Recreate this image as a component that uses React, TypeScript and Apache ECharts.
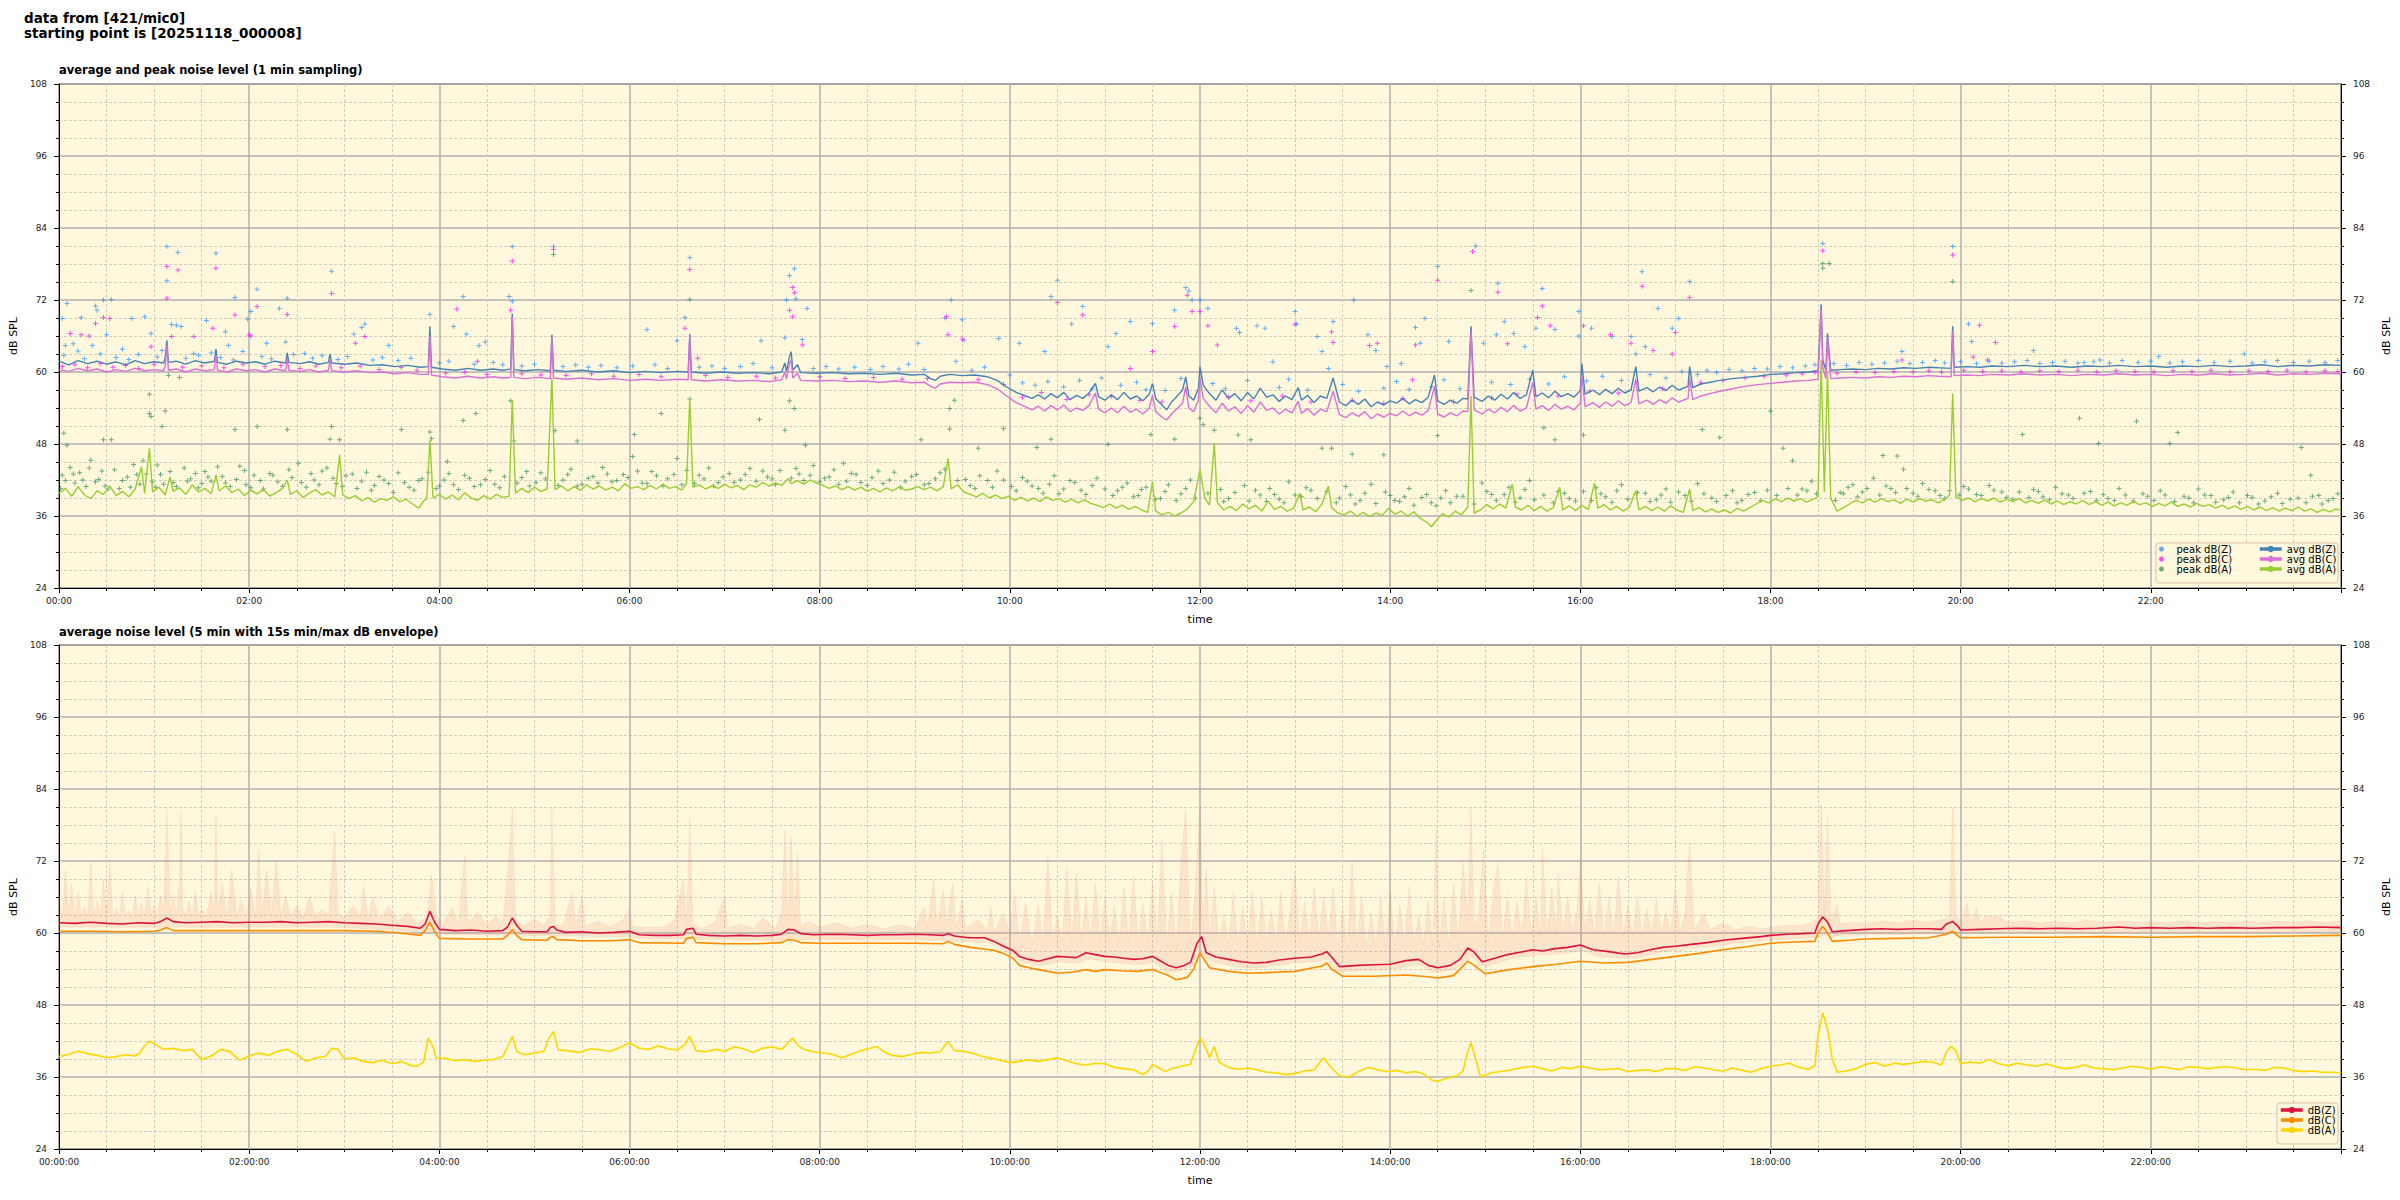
import React, { useEffect, useRef } from 'react';
import * as echarts from 'echarts';

// ---------------- DATA (time in minutes since 00:00, values in dB SPL) ----------------
const yTicks = [24, 36, 48, 60, 72, 84, 96, 108];

const avgZ: number[][] = [[0,61.8],[6,61.2],[12,61.9],[18,61.4],[24,61.8],[30,61.3],[36,61.7],[42,61.2],[48,61.9],[54,61.4],[60,61.7],[66,61.5],[67,62.4],[68,65.3],[69,61.6],[74,61.8],[80,61.3],[86,61.9],[92,61.5],[98,61.8],[99,63.8],[100,61.6],[106,61.3],[112,61.8],[118,61.5],[124,61.7],[130,61.3],[136,61.8],[143,61.5],[144,63.2],[145,61.6],[152,61.4],[158,61.7],[164,61.3],[170,61.6],[171,63.0],[172,61.5],[180,61.3],[188,61.5],[196,61.1],[204,61.2],[212,60.9],[220,61.1],[228,60.8],[233,60.9],[234,67.6],[235,60.8],[242,60.5],[250,60.3],[258,60.6],[266,60.3],[274,60.5],[280,60.3],[285,60.5],[286,69.7],[287,60.4],[294,60.2],[302,60.4],[310,60.2],[311,66.2],[312,60.3],[320,60.1],[330,60.3],[340,60.0],[350,60.2],[360,59.9],[370,60.1],[380,59.9],[390,60.1],[397,60.0],[398,66.3],[399,60.0],[408,59.8],[418,60.0],[428,59.8],[438,59.9],[448,59.7],[456,60.0],[458,61.5],[459,60.1],[461,62.6],[462,63.4],[463,60.3],[466,61.2],[468,59.9],[478,59.8],[488,59.9],[498,59.7],[508,59.8],[518,59.6],[528,59.8],[538,59.5],[546,59.6],[550,58.9],[553,58.6],[556,59.3],[562,59.6],[570,59.4],[578,59.5],[586,59.2],[592,58.6],[598,57.5],[604,56.6],[610,56.0],[614,55.6],[618,56.2],[622,55.5],[626,56.4],[630,55.7],[634,56.6],[638,55.4],[642,56.1],[646,55.6],[650,56.5],[654,58.1],[656,55.9],[660,55.3],[664,56.2],[668,55.4],[672,56.6],[676,55.5],[680,56.0],[684,55.2],[688,56.3],[690,58.1],[692,55.6],[696,54.5],[699,53.7],[702,55.0],[706,56.1],[709,57.0],[711,59.2],[713,56.0],[716,55.3],[719,57.2],[720,60.9],[722,57.8],[726,56.4],[730,55.3],[734,57.0],[738,55.6],[742,56.4],[746,55.2],[750,56.6],[754,55.5],[758,57.3],[762,55.8],[766,56.2],[770,55.1],[774,56.0],[778,55.4],[782,57.4],[784,55.3],[788,56.1],[792,54.9],[796,56.0],[800,55.6],[804,59.0],[808,55.0],[812,54.4],[816,55.3],[820,54.6],[824,55.5],[828,54.2],[832,55.0],[836,54.5],[840,55.2],[844,54.8],[848,55.6],[852,54.7],[856,55.4],[860,54.9],[864,55.8],[868,59.5],[870,55.2],[874,54.6],[878,55.3],[882,54.8],[886,55.6],[889,55.5],[891,67.6],[893,55.8],[898,55.1],[902,56.0],[906,55.3],[910,56.3],[914,55.5],[918,56.6],[922,55.6],[926,56.2],[930,60.3],[932,55.9],[936,56.5],[940,55.7],[944,56.8],[948,55.9],[952,56.4],[956,55.8],[960,56.9],[961,61.4],[963,56.3],[968,57.0],[972,56.2],[976,57.1],[980,56.4],[984,57.3],[988,56.5],[992,57.0],[995,60.9],[997,56.8],[1002,57.4],[1006,56.7],[1010,57.5],[1014,56.9],[1018,57.8],[1022,57.0],[1028,57.6],[1029,60.9],[1031,57.4],[1036,58.0],[1042,58.3],[1048,58.6],[1056,58.9],[1064,59.1],[1072,59.3],[1080,59.6],[1088,59.7],[1096,59.9],[1104,60.0],[1110,60.2],[1112,71.3],[1113,62.0],[1115,60.3],[1116,66.4],[1118,60.3],[1124,60.4],[1132,60.5],[1140,60.4],[1148,60.6],[1156,60.5],[1164,60.7],[1172,60.6],[1180,60.8],[1186,60.7],[1194,60.6],[1195,67.6],[1196,60.8],[1204,60.9],[1212,60.8],[1220,61.0],[1230,60.9],[1240,61.1],[1250,60.9],[1260,61.0],[1270,60.8],[1280,61.0],[1290,60.9],[1300,61.1],[1310,60.9],[1320,61.0],[1330,60.8],[1340,61.0],[1350,60.9],[1360,61.1],[1370,60.9],[1380,61.0],[1390,61.2],[1400,60.9],[1410,61.1],[1420,61.0],[1430,61.2],[1440,61.1]];

const avgC: number[][] = [[0,60.4],[6,60.1],[12,60.6],[18,60.2],[24,60.5],[30,60.0],[36,60.4],[42,60.1],[48,60.6],[54,60.2],[60,60.4],[66,60.2],[67,61.0],[68,64.5],[69,60.3],[74,60.5],[80,60.0],[86,60.5],[92,60.2],[98,60.4],[99,62.8],[100,60.3],[106,60.0],[112,60.5],[118,60.2],[124,60.4],[130,60.0],[136,60.5],[143,60.2],[144,62.2],[145,60.3],[152,60.1],[158,60.4],[164,60.0],[170,60.3],[171,62.0],[172,60.2],[180,60.0],[188,60.2],[196,59.9],[204,60.0],[212,59.7],[220,59.9],[228,59.6],[233,59.6],[234,66.0],[235,59.5],[242,59.2],[250,59.0],[258,59.3],[266,59.0],[274,59.2],[280,59.0],[285,59.1],[286,69.2],[287,59.1],[294,58.9],[302,59.1],[310,58.9],[311,65.8],[312,59.0],[320,58.8],[330,59.0],[340,58.7],[350,58.9],[360,58.6],[370,58.8],[380,58.6],[390,58.8],[397,58.7],[398,65.9],[399,58.7],[408,58.5],[418,58.7],[428,58.5],[438,58.6],[448,58.4],[456,58.7],[458,60.0],[459,58.8],[461,61.5],[462,62.0],[463,59.0],[466,59.8],[468,58.6],[478,58.5],[488,58.6],[498,58.4],[508,58.5],[518,58.3],[528,58.5],[538,58.2],[546,58.3],[550,57.6],[553,57.3],[556,58.0],[562,58.3],[570,58.2],[578,58.3],[586,57.9],[592,57.2],[598,56.0],[604,54.9],[610,54.2],[614,53.7],[618,54.3],[622,53.5],[626,54.4],[630,53.7],[634,54.5],[638,53.4],[642,54.0],[646,53.6],[650,54.4],[654,56.5],[656,53.8],[660,53.2],[664,54.0],[668,53.2],[672,54.3],[676,53.3],[680,53.8],[684,53.0],[688,54.0],[690,56.2],[692,53.4],[696,52.5],[699,52.0],[702,53.0],[706,54.0],[709,54.8],[711,57.5],[713,54.0],[716,53.4],[719,55.3],[720,59.0],[722,55.6],[726,54.3],[730,53.2],[734,54.8],[738,53.5],[742,54.2],[746,53.1],[750,54.4],[754,53.3],[758,55.0],[762,53.6],[766,54.0],[770,53.0],[774,53.8],[778,53.2],[782,55.1],[784,53.1],[788,53.9],[792,52.8],[796,53.8],[800,53.4],[804,56.8],[808,52.9],[812,52.4],[816,53.2],[820,52.6],[824,53.4],[828,52.2],[832,53.0],[836,52.5],[840,53.1],[844,52.7],[848,53.5],[852,52.7],[856,53.3],[860,52.8],[864,53.6],[868,57.6],[870,53.0],[874,52.5],[878,53.2],[882,52.7],[886,53.5],[889,53.4],[891,66.8],[893,53.7],[898,53.0],[902,53.8],[906,53.2],[910,54.1],[914,53.4],[918,54.4],[922,53.5],[926,54.0],[930,58.3],[932,53.8],[936,54.4],[940,53.6],[944,54.6],[948,53.8],[952,54.3],[956,53.7],[960,54.8],[961,59.5],[963,54.2],[968,54.9],[972,54.1],[976,55.0],[980,54.3],[984,55.2],[988,54.4],[992,54.9],[995,58.8],[997,54.7],[1002,55.3],[1006,54.6],[1010,55.4],[1014,54.8],[1018,55.7],[1022,55.0],[1028,55.6],[1029,58.9],[1031,55.4],[1036,56.0],[1042,56.4],[1048,56.8],[1056,57.2],[1064,57.6],[1072,57.9],[1080,58.1],[1088,58.3],[1096,58.5],[1104,58.6],[1110,58.8],[1112,70.5],[1113,60.8],[1115,58.9],[1116,65.6],[1118,58.9],[1124,59.0],[1132,59.1],[1140,59.0],[1148,59.2],[1156,59.1],[1164,59.3],[1172,59.2],[1180,59.4],[1186,59.3],[1194,59.2],[1195,66.8],[1196,59.4],[1204,59.5],[1212,59.4],[1220,59.6],[1230,59.5],[1240,59.7],[1250,59.5],[1260,59.6],[1270,59.4],[1280,59.6],[1290,59.5],[1300,59.7],[1310,59.5],[1320,59.6],[1330,59.4],[1340,59.6],[1350,59.5],[1360,59.7],[1370,59.5],[1380,59.6],[1390,59.8],[1400,59.5],[1410,59.7],[1420,59.6],[1430,59.8],[1440,59.7]];

const avgA: number[][] = [[0,39.8],[4,40.6],[8,39.3],[12,40.9],[16,39.5],[20,38.9],[24,40.2],[28,39.6],[32,41.0],[36,39.4],[40,40.1],[44,39.2],[48,40.5],[52,44.2],[54,39.8],[57,47.3],[59,40.0],[63,40.8],[67,39.5],[70,42.5],[72,40.1],[76,40.7],[80,39.6],[84,41.2],[88,40.0],[92,40.6],[96,39.7],[99,42.8],[101,40.2],[105,41.0],[109,39.9],[113,40.5],[117,39.4],[121,40.3],[125,39.7],[129,40.4],[133,39.3],[137,39.9],[141,40.6],[144,42.0],[146,39.6],[150,40.2],[154,39.1],[158,39.8],[162,40.4],[166,39.5],[170,40.0],[174,39.2],[177,46.2],[179,39.5],[183,38.9],[187,39.4],[191,38.5],[195,39.1],[199,38.3],[203,38.9],[207,38.6],[211,39.2],[215,38.4],[219,38.8],[223,38.0],[227,37.3],[230,38.5],[232,38.8],[234,48.7],[236,39.0],[240,39.6],[244,38.8],[248,39.5],[252,38.7],[256,39.9],[260,39.0],[264,38.6],[268,39.4],[272,38.8],[276,39.6],[280,39.1],[284,39.3],[286,55.3],[288,39.8],[292,40.6],[296,39.9],[300,40.8],[304,40.1],[308,40.5],[311,59.0],[313,40.4],[317,41.0],[321,40.2],[325,40.9],[329,40.3],[333,41.2],[337,40.5],[341,41.0],[345,40.3],[349,40.8],[353,40.2],[357,41.4],[361,40.6],[365,40.9],[369,40.4],[373,41.1],[377,40.5],[381,41.3],[385,40.6],[389,40.9],[393,40.3],[396,41.5],[398,55.6],[400,40.8],[404,41.2],[408,40.5],[412,41.0],[416,40.6],[420,41.3],[424,40.7],[428,41.1],[432,40.4],[436,41.2],[440,40.8],[444,41.6],[448,41.0],[452,41.5],[456,41.1],[460,42.2],[462,41.4],[466,41.9],[470,41.3],[474,42.0],[478,41.5],[482,41.1],[486,40.6],[490,41.0],[494,40.4],[498,40.9],[502,40.3],[506,40.8],[510,40.1],[514,40.6],[518,40.0],[522,40.7],[526,40.2],[530,40.8],[534,40.3],[538,40.5],[542,40.9],[546,40.4],[550,40.8],[554,40.2],[558,40.9],[561,45.6],[563,40.5],[567,41.2],[571,40.0],[575,39.6],[579,39.2],[583,39.8],[587,39.0],[591,39.5],[595,38.9],[599,39.3],[603,38.6],[607,39.1],[611,38.5],[615,39.0],[619,38.4],[623,39.2],[627,38.6],[631,38.9],[635,38.3],[639,38.8],[643,38.2],[647,38.7],[651,38.1],[655,37.8],[659,37.4],[663,38.0],[667,37.3],[671,37.8],[675,37.1],[679,37.6],[683,37.0],[687,36.6],[690,41.7],[692,36.8],[696,36.2],[700,36.6],[704,36.0],[708,36.5],[712,37.2],[716,38.4],[720,43.7],[723,39.0],[726,37.8],[729,48.1],[731,38.2],[735,37.0],[739,37.6],[743,36.9],[747,38.0],[751,37.2],[755,37.8],[759,36.8],[763,38.5],[767,37.1],[771,37.6],[775,36.8],[779,37.3],[783,39.8],[785,37.0],[789,37.5],[793,36.7],[797,38.0],[801,41.0],[803,37.4],[807,36.5],[811,36.2],[815,36.8],[819,36.0],[823,36.6],[827,35.9],[831,36.5],[835,36.1],[839,37.3],[843,36.3],[847,36.8],[851,36.0],[855,36.7],[859,35.6],[863,35.0],[866,34.2],[869,35.2],[873,36.4],[877,35.8],[881,36.8],[885,36.2],[889,37.5],[891,56.0],[893,36.5],[897,37.0],[901,37.9],[905,37.2],[909,38.0],[913,37.3],[917,41.3],[919,37.5],[923,37.0],[927,37.8],[931,36.9],[935,37.6],[939,36.8],[943,37.4],[947,40.8],[949,37.0],[953,37.7],[957,36.9],[961,37.8],[965,37.1],[969,41.5],[971,37.3],[975,37.9],[979,37.0],[983,37.6],[987,36.8],[991,37.5],[995,40.2],[997,37.0],[1001,37.6],[1005,36.9],[1009,37.5],[1013,36.8],[1017,37.7],[1021,37.0],[1025,36.6],[1029,40.5],[1031,36.9],[1035,37.4],[1039,36.7],[1043,37.2],[1047,36.6],[1051,37.0],[1055,36.5],[1059,37.3],[1063,36.8],[1067,37.4],[1071,38.0],[1075,38.6],[1079,38.2],[1083,38.9],[1087,38.4],[1091,39.0],[1095,38.5],[1099,38.9],[1103,38.3],[1107,38.8],[1110,39.2],[1112,62.0],[1114,40.0],[1116,60.0],[1118,39.0],[1122,36.8],[1126,37.4],[1130,38.0],[1134,38.6],[1138,38.2],[1142,38.8],[1146,38.3],[1150,38.9],[1154,38.4],[1158,38.7],[1162,38.1],[1166,38.8],[1170,38.3],[1174,38.9],[1178,38.5],[1182,38.7],[1186,38.2],[1190,38.8],[1193,39.5],[1195,56.4],[1197,39.2],[1201,38.6],[1205,39.0],[1209,38.4],[1213,38.9],[1217,38.5],[1221,39.0],[1225,38.3],[1229,38.8],[1233,38.4],[1237,38.9],[1241,38.2],[1245,38.6],[1249,38.1],[1253,38.7],[1257,38.0],[1261,38.5],[1265,37.9],[1269,38.4],[1273,38.0],[1277,38.6],[1281,37.9],[1285,38.4],[1289,37.8],[1293,38.3],[1297,37.7],[1301,38.2],[1305,37.8],[1309,38.4],[1313,37.9],[1317,38.2],[1321,37.6],[1325,38.1],[1329,37.7],[1333,38.3],[1337,37.6],[1341,38.0],[1345,37.5],[1349,38.1],[1353,37.6],[1357,37.9],[1361,37.3],[1365,37.8],[1369,37.2],[1373,37.7],[1377,37.1],[1381,37.6],[1385,37.0],[1389,37.5],[1393,36.9],[1397,37.4],[1401,36.8],[1405,37.3],[1409,36.9],[1413,37.5],[1417,36.8],[1421,37.2],[1425,36.6],[1429,37.1],[1433,36.7],[1437,37.2],[1440,36.9]];

const peakZ: number[][] = [[68,80.9],[75,79.9],[99,79.8],[68,75.2],[172,76.8],[125,73.8],[286,80.9],[312,80.9],[398,79.1],[461,76.1],[464,77.2],[630,75.3],[711,74.1],[713,73.5],[5,71.4],[28,72.0],[33,72.1],[111,72.4],[144,72.3],[255,72.6],[284,72.6],[286,71.8],[459,72.0],[465,72.2],[563,72.0],[626,72.6],[720,72.0],[2,68.9],[14,69.1],[23,71.0],[24,70.3],[21,64.4],[4,64.4],[9,64.7],[30,66.2],[46,68.9],[54,69.2],[58,66.4],[71,67.9],[74,67.8],[77,67.6],[85,63.1],[93,68.6],[105,66.7],[107,64.4],[119,68.8],[121,70.1],[131,64.8],[139,70.6],[143,65.0],[155,63.1],[186,66.3],[191,67.4],[193,68.0],[208,64.4],[234,69.6],[249,67.6],[257,66.3],[265,64.4],[269,65.0],[371,67.1],[395,69.1],[390,65.2],[443,65.2],[458,65.7],[472,70.6],[469,65.4],[542,64.8],[559,69.0],[570,68.7],[571,65.3],[593,65.6],[606,64.8],[622,63.4],[639,68.0],[646,70.9],[662,64.2],[667,66.4],[676,68.4],[690,68.1],[704,70.3],[715,72.0],[894,81.0],[870,77.6],[1113,81.4],[1195,80.9],[999,76.7],[1029,75.1],[936,73.9],[908,74.8],[817,72.0],[725,70.6],[780,70.1],[756,67.7],[781,68.0],[804,68.4],[826,66.2],[831,63.6],[856,67.4],[862,68.9],[912,68.4],[918,66.4],[932,67.3],[944,67.1],[959,70.1],[959,66.0],[967,67.3],[980,65.9],[992,65.9],[1009,70.6],[1018,67.3],[1022,68.9],[995,63.0],[1001,64.2],[743,67.3],[745,66.6],[761,67.3],[766,61.7],[794,65.9],[797,63.4],[801,60.6],[838,60.9],[847,61.4],[859,64.8],[877,65.1],[899,64.8],[907,66.2],[925,64.2],[1207,65.1],[1205,68.0],[1163,63.4],[1246,63.6],[1379,63.0],[1325,62.6],[1288,62.0],[1278,61.6],[3,62.8],[12,63.5],[16,62.2],[26,63.0],[36,62.4],[40,63.8],[44,62.1],[50,62.9],[62,62.5],[65,63.6],[80,62.3],[88,62.8],[96,63.2],[102,62.4],[110,62.0],[116,63.4],[128,62.6],[134,62.2],[148,62.9],[160,62.3],[166,62.7],[176,62.1],[182,62.6],[198,62.0],[204,62.4],[214,61.9],[222,62.3],[240,61.5],[246,61.8],[262,61.3],[274,61.6],[280,61.2],[292,61.0],[300,61.3],[318,60.9],[326,61.2],[334,60.8],[342,61.1],[352,60.7],[362,61.0],[376,61.2],[384,60.6],[404,60.8],[412,61.0],[420,60.6],[430,60.9],[438,61.4],[450,60.7],[476,60.6],[484,60.9],[492,60.5],[502,60.8],[512,60.4],[520,60.9],[530,60.5],[536,61.3],[546,60.4],[566,61.8],[576,60.3],[584,60.8],[600,59.5],[608,58.2],[616,57.8],[624,58.4],[634,57.5],[644,58.6],[652,57.2],[658,59.0],[670,57.8],[680,58.3],[686,57.1],[698,56.9],[708,58.9],[728,58.1],[736,57.2],[750,58.6],[770,57.4],[776,58.8],[788,57.0],[810,57.9],[820,56.8],[836,57.3],[844,58.4],[852,57.1],[866,57.6],[874,58.7],[884,57.2],[904,58.3],[916,57.9],[928,58.8],[940,58.0],[950,59.2],[964,58.5],[974,59.3],[986,58.6],[1004,59.6],[1014,59.0],[1024,60.1],[1034,59.6],[1040,60.3],[1046,59.9],[1054,60.4],[1062,60.2],[1070,60.6],[1078,60.5],[1086,60.9],[1094,60.7],[1102,61.0],[1108,61.2],[1120,61.4],[1128,61.1],[1136,61.6],[1144,61.3],[1152,61.5],[1160,61.8],[1168,61.4],[1176,61.6],[1184,61.9],[1190,61.5],[1200,61.7],[1210,61.4],[1218,61.8],[1226,61.5],[1234,61.7],[1242,61.9],[1250,61.4],[1258,61.6],[1266,61.8],[1274,61.5],[1284,61.7],[1294,61.5],[1302,61.9],[1312,61.6],[1320,61.8],[1332,61.5],[1340,61.7],[1350,61.9],[1360,61.6],[1370,61.8],[1384,61.5],[1392,61.7],[1400,61.9],[1410,61.6],[1420,61.8],[1430,61.6],[1438,61.9]];

const peakC: number[][] = [[68,77.6],[75,77.0],[99,77.3],[68,72.3],[172,73.1],[286,78.5],[312,80.4],[398,77.1],[463,74.1],[464,73.2],[630,71.6],[712,72.8],[720,70.1],[125,70.9],[97,67.3],[111,69.5],[120,66.2],[144,69.6],[28,69.1],[32,68.9],[23,68.1],[7,66.4],[14,66.2],[19,66.0],[58,64.2],[71,65.9],[85,65.9],[121,66.0],[193,65.9],[187,64.8],[251,70.5],[264,61.8],[285,70.3],[395,67.3],[403,62.3],[461,70.3],[469,64.5],[463,69.2],[561,66.2],[560,69.2],[570,65.5],[646,69.5],[676,60.6],[690,63.4],[704,67.6],[715,70.1],[892,80.1],[870,75.3],[1113,80.2],[1195,79.5],[999,74.3],[1029,72.4],[908,73.3],[936,71.0],[725,67.7],[731,64.5],[780,67.9],[803,66.7],[804,64.9],[827,64.4],[856,64.5],[832,64.8],[854,58.7],[914,64.7],[933,69.1],[941,67.7],[962,67.7],[979,66.2],[992,64.8],[1020,66.6],[1018,63.0],[1006,63.6],[1212,67.8],[1217,62.0],[1208,62.5],[1163,62.0],[1222,64.9],[2,60.9],[10,61.2],[18,60.7],[26,61.4],[34,60.8],[42,61.1],[50,60.6],[60,61.3],[78,60.8],[90,61.0],[104,60.7],[116,61.3],[130,60.9],[140,61.1],[152,60.6],[162,61.0],[178,60.7],[190,61.0],[202,60.4],[216,60.8],[226,60.3],[244,59.8],[256,60.0],[270,59.6],[292,59.7],[304,59.5],[320,59.4],[336,59.7],[350,59.3],[366,59.6],[380,59.2],[408,59.4],[422,59.1],[440,59.3],[452,59.0],[480,59.2],[496,58.9],[514,59.1],[532,58.8],[548,58.9],[580,58.7],[596,57.9],[608,55.8],[620,56.6],[636,55.4],[650,56.2],[664,55.9],[682,55.3],[696,55.0],[738,55.8],[752,55.2],[772,56.0],[790,55.0],[816,55.3],[836,54.8],[848,55.6],[880,55.0],[904,55.7],[920,56.3],[946,56.0],[966,56.8],[984,56.5],[1012,57.2],[1036,58.2],[1050,58.6],[1064,59.0],[1076,59.3],[1090,59.5],[1100,59.7],[1108,59.9],[1122,59.8],[1134,60.0],[1146,59.9],[1158,60.1],[1170,60.0],[1180,60.2],[1188,60.0],[1202,60.3],[1214,60.1],[1226,60.2],[1238,60.0],[1250,60.2],[1262,60.1],[1274,60.3],[1286,60.0],[1298,60.2],[1310,60.1],[1322,60.0],[1334,60.2],[1346,60.1],[1358,60.3],[1370,60.0],[1382,60.2],[1394,60.1],[1406,60.3],[1418,60.0],[1430,60.2],[1438,60.1]];

const peakA: number[][] = [[312,79.6],[398,72.1],[891,73.6],[1113,78.1],[1113,77.3],[1117,78.1],[1195,75.1],[3,49.8],[5,47.8],[28,48.7],[33,48.7],[57,56.3],[57,53.1],[58,52.6],[65,50.9],[67,53.5],[69,59.4],[76,59.1],[111,50.4],[125,50.9],[144,50.4],[172,50.9],[171,48.8],[177,48.7],[216,50.4],[235,48.9],[234,50.0],[245,45.1],[255,51.9],[263,53.1],[285,55.2],[287,48.5],[313,50.2],[327,48.5],[362,45.9],[363,49.6],[380,53.1],[390,45.6],[398,55.5],[442,52.1],[458,50.3],[461,55.2],[464,53.9],[471,47.8],[495,44.8],[544,48.7],[562,53.9],[565,55.3],[562,50.5],[580,47.3],[596,50.6],[617,47.4],[626,48.8],[662,47.9],[689,49.6],[704,48.8],[720,52.3],[722,51.2],[729,50.3],[744,49.5],[752,48.7],[797,47.3],[803,47.3],[816,46.3],[836,46.2],[870,49.4],[937,50.7],[944,48.7],[962,49.5],[1037,50.4],[1048,49.1],[1080,53.5],[1088,47.3],[1094,45.2],[1151,46.1],[1160,46.0],[1164,43.8],[1239,49.6],[1275,52.3],[1287,48.1],[1311,51.8],[1332,48.1],[1337,49.9],[1415,47.4],[1421,42.8],[2,42.8],[7,44.1],[10,41.5],[13,43.2],[17,40.9],[20,45.3],[25,42.1],[29,41.0],[35,43.7],[38,40.6],[43,42.5],[47,44.6],[51,41.3],[55,43.0],[61,40.8],[64,42.9],[72,41.6],[79,44.0],[83,42.2],[88,40.7],[92,43.4],[96,41.8],[103,42.6],[108,40.9],[114,44.3],[118,41.2],[123,42.8],[129,40.5],[133,43.1],[138,41.7],[147,42.4],[151,44.8],[156,40.8],[161,42.0],[166,43.5],[175,41.4],[181,42.7],[188,40.6],[194,43.3],[199,41.1],[205,42.0],[211,39.9],[218,41.6],[224,40.3],[229,42.2],[240,41.0],[246,43.1],[252,40.4],[259,42.3],[266,41.2],[272,43.6],[278,40.7],[292,42.4],[297,41.0],[304,43.2],[318,42.0],[323,43.8],[330,41.3],[337,42.6],[343,44.1],[349,41.7],[356,42.9],[368,41.5],[374,43.4],[384,42.2],[393,41.2],[404,42.8],[410,44.0],[416,41.6],[423,43.1],[430,42.0],[436,43.9],[447,42.5],[452,41.2],[467,43.0],[476,44.4],[483,42.3],[489,43.7],[497,41.8],[503,42.9],[510,41.1],[517,43.5],[524,42.0],[531,40.8],[538,42.6],[549,41.4],[556,43.2],[572,42.1],[578,40.6],[586,41.9],[592,43.5],[601,40.9],[608,42.4],[614,41.0],[621,39.8],[628,42.7],[634,40.5],[641,41.6],[648,39.6],[655,42.3],[668,40.2],[674,41.5],[681,39.4],[686,40.8],[695,38.9],[700,41.2],[708,39.7],[714,42.0],[733,40.4],[738,38.9],[748,41.1],[758,39.5],[764,40.6],[770,38.8],[776,41.7],[784,39.2],[790,40.3],[808,39.0],[812,40.9],[821,38.6],[828,41.3],[840,39.4],[846,38.4],[852,40.6],[860,39.1],[866,38.2],[875,40.2],[882,39.3],[898,41.5],[904,39.6],[915,40.8],[922,39.0],[928,41.9],[946,40.1],[953,38.9],[970,40.7],[976,39.2],[986,41.2],[1001,39.8],[1008,38.7],[1014,40.5],[1026,39.4],[1034,41.4],[1043,39.0],[1056,40.2],[1062,38.6],[1070,39.9],[1100,40.5],[1106,41.8],[1126,39.7],[1132,41.2],[1138,40.0],[1145,42.3],[1156,40.6],[1170,39.8],[1176,41.4],[1184,40.2],[1190,38.9],[1202,40.9],[1210,39.6],[1218,41.1],[1226,40.0],[1233,38.8],[1246,40.4],[1252,39.2],[1260,40.8],[1268,39.5],[1282,40.1],[1293,38.9],[1300,40.6],[1318,39.3],[1326,40.2],[1344,39.0],[1350,40.5],[1358,39.4],[1366,38.7],[1372,40.0],[1384,39.1],[1392,38.5],[1400,39.8],[1408,38.8],[1426,39.4],[1432,38.6],[1438,39.7],[1,40.6],[4,41.9],[9,43.0],[15,42.0],[19,44.0],[23,41.7],[27,43.5],[31,40.5],[40,41.9],[45,40.8],[49,42.9],[53,45.2],[59,41.7],[62,44.5],[66,41.3],[70,43.4],[74,40.9],[81,41.8],[86,43.1],[90,41.4],[94,42.5],[100,44.2],[105,41.5],[112,42.1],[117,43.6],[121,40.7],[127,41.9],[135,42.8],[141,40.9],[145,43.7],[153,41.6],[159,43.1],[164,41.2],[169,44.0],[173,42.3],[179,40.9],[185,43.0],[191,41.8],[197,40.3],[202,42.6],[208,41.4],[214,43.2],[221,40.8],[227,41.9],[233,43.3],[238,40.6],[243,42.0],[249,41.2],[256,42.8],[262,40.9],[269,42.1],[275,41.3],[281,42.6],[289,41.5],[295,43.4],[301,41.6],[307,42.2],[315,41.1],[321,42.9],[327,41.0],[334,42.3],[340,41.5],[346,43.0],[352,41.9],[359,42.4],[365,43.5],[371,41.4],[377,42.7],[381,41.0],[388,42.9],[396,43.6],[401,41.4],[407,42.2],[413,41.0],[419,42.5],[426,41.6],[433,42.9],[440,41.8],[444,43.5],[450,42.2],[455,43.6],[462,42.3],[465,43.9],[470,41.9],[474,42.8],[480,41.7],[486,42.5],[492,41.3],[500,43.1],[506,41.6],[513,42.4],[520,41.4],[527,43.3],[534,41.8],[541,42.9],[546,41.2],[553,42.2],[559,43.8],[567,41.9],[575,41.1],[581,42.7],[589,40.8],[596,42.0],[604,40.2],[611,41.8],[618,40.6],[625,41.3],[631,39.7],[638,41.9],[645,40.3],[652,41.1],[660,40.5],[665,39.4],[671,40.8],[678,39.2],[683,40.4],[692,38.8],[698,40.1],[705,38.6],[711,40.6],[717,39.0],[725,39.8],[735,38.4],[742,39.9],[751,38.5],[755,40.3],[762,38.4],[767,39.6],[773,38.2],[780,39.5],[787,40.7],[794,38.9],[800,40.1],[806,38.2],[815,39.5],[818,38.0],[824,39.8],[831,38.1],[837,40.0],[843,38.6],[849,39.2],[855,37.8],[863,39.6],[869,37.7],[872,39.0],[878,38.2],[886,39.3],[893,38.0],[901,40.1],[907,38.6],[912,39.6],[919,38.3],[925,40.4],[931,38.7],[937,39.5],[943,38.2],[950,39.8],[957,38.5],[962,40.1],[967,38.6],[973,39.7],[980,38.3],[983,40.2],[990,38.8],[996,39.9],[1004,38.4],[1011,39.5],[1017,38.3],[1022,40.0],[1030,38.5],[1038,39.7],[1046,38.4],[1052,39.4],[1059,38.2],[1066,39.6],[1074,38.6],[1078,40.3],[1084,39.4],[1091,40.6],[1097,39.5],[1103,40.2],[1109,39.7],[1121,38.6],[1124,39.9],[1129,40.8],[1135,39.2],[1141,40.6],[1149,39.5],[1153,41.0],[1159,39.9],[1166,40.6],[1173,39.3],[1180,40.4],[1187,39.4],[1193,40.2],[1199,39.5],[1205,40.5],[1213,39.4],[1221,40.3],[1229,39.1],[1237,40.0],[1243,39.1],[1249,40.1],[1256,38.7],[1264,39.7],[1271,38.9],[1278,39.8],[1286,38.6],[1290,39.6],[1297,38.6],[1304,39.5],[1309,38.5],[1315,39.7],[1322,38.6],[1329,39.5],[1335,38.4],[1341,39.3],[1347,38.2],[1354,39.5],[1361,38.3],[1369,39.1],[1376,38.2],[1381,39.4],[1388,38.0],[1396,39.2],[1403,38.1],[1413,39.0],[1418,38.2],[1422,39.3],[1428,38.0],[1435,38.9]];

const lineZ: number[][] = [[0,61.7],[10,61.6],[20,61.8],[30,61.6],[40,61.5],[50,61.7],[60,61.6],[64,61.9],[68,62.5],[72,61.9],[80,61.7],[90,61.8],[100,61.9],[110,61.7],[120,61.8],[130,61.8],[140,61.9],[150,61.7],[160,61.8],[170,61.9],[180,61.7],[190,61.6],[200,61.5],[210,61.3],[220,61.1],[228,60.8],[231,61.5],[234,63.6],[237,61.8],[240,60.6],[250,60.4],[260,60.5],[270,60.3],[280,60.4],[283,61.0],[286,62.5],[289,61.2],[292,60.3],[300,60.2],[308,60.2],[310,60.9],[312,61.1],[314,60.5],[320,60.1],[330,60.2],[340,60.0],[350,60.1],[360,60.3],[366,59.7],[376,59.6],[386,59.6],[394,59.7],[396,60.6],[400,60.8],[402,59.8],[410,59.6],[420,59.5],[430,59.6],[440,59.5],[450,59.6],[456,59.8],[460,60.6],[464,60.5],[468,59.9],[476,59.7],[490,59.8],[500,59.7],[510,59.6],[520,59.7],[530,59.7],[540,59.8],[550,59.7],[558,59.6],[561,59.9],[565,59.5],[574,59.2],[584,59.2],[590,58.6],[596,57.8],[602,57.1],[606,56.1],[612,55.6],[618,55.3],[624,55.7],[630,56.1],[636,56.0],[642,55.9],[648,56.7],[654,56.4],[660,56.1],[666,56.0],[672,55.8],[678,55.6],[684,55.7],[690,56.1],[694,55.5],[700,54.6],[705,54.2],[710,54.6],[714,55.1],[718,58.2],[721,59.4],[724,56.7],[730,56.0],[738,55.6],[746,55.2],[754,55.0],[762,55.1],[770,55.5],[780,55.8],[790,56.0],[797,56.5],[800,56.9],[803,56.0],[808,54.4],[820,54.6],[830,54.7],[840,54.8],[850,55.4],[858,55.6],[864,54.6],[870,54.2],[878,54.6],[884,55.6],[889,57.5],[893,56.8],[898,55.2],[906,55.8],[914,56.4],[922,56.8],[930,57.2],[936,57.0],[944,57.4],[952,57.6],[960,58.0],[968,57.2],[978,56.9],[988,56.5],[996,56.7],[1004,57.2],[1012,57.6],[1020,57.8],[1030,58.1],[1040,58.4],[1050,58.8],[1062,59.1],[1074,59.4],[1080,59.6],[1090,59.8],[1100,59.9],[1108,60.0],[1110,61.5],[1113,62.7],[1116,61.8],[1119,60.2],[1128,60.4],[1140,60.6],[1150,60.7],[1160,60.6],[1170,60.7],[1180,60.7],[1188,60.6],[1191,61.5],[1195,61.9],[1198,61.2],[1200,60.5],[1212,60.6],[1224,60.7],[1236,60.8],[1250,60.7],[1262,60.8],[1274,60.7],[1286,60.8],[1300,61.0],[1310,60.8],[1320,60.9],[1332,60.8],[1344,60.9],[1356,60.8],[1370,60.9],[1384,60.8],[1400,60.9],[1412,60.9],[1426,61.0],[1440,60.9]];

const lineC: number[][] = [[0,60.3],[20,60.3],[40,60.2],[60,60.3],[64,60.5],[68,60.9],[72,60.4],[90,60.4],[120,60.4],[150,60.4],[180,60.4],[200,60.3],[215,60.0],[228,59.6],[231,60.4],[234,61.8],[237,60.2],[240,59.1],[260,59.0],[280,59.0],[283,59.6],[286,60.6],[289,59.5],[292,58.9],[308,58.8],[310,59.3],[312,59.4],[314,58.9],[330,58.7],[350,58.7],[360,58.9],[366,58.4],[394,58.3],[396,59.1],[400,59.3],[402,58.4],[420,58.2],[440,58.2],[456,58.4],[460,58.9],[464,58.8],[468,58.4],[480,58.3],[500,58.3],[520,58.3],[540,58.3],[558,58.2],[561,58.6],[565,58.1],[575,57.6],[585,57.3],[590,57.1],[596,56.6],[602,55.8],[606,54.6],[612,54.2],[618,53.9],[624,53.6],[630,53.3],[640,53.5],[648,53.9],[654,53.6],[660,53.9],[670,53.7],[680,53.6],[690,53.9],[700,52.9],[705,52.2],[712,52.6],[716,54.0],[720,56.7],[724,55.0],[726,54.2],[738,53.6],[750,53.3],[762,53.4],[780,53.6],[797,54.5],[800,55.0],[803,54.0],[810,52.8],[830,52.8],[850,53.0],[864,52.7],[870,52.5],[880,52.9],[889,55.3],[893,54.6],[900,53.2],[915,53.9],[930,54.4],[945,54.8],[960,55.3],[975,55.0],[990,55.1],[1005,55.6],[1020,56.1],[1035,56.6],[1050,57.2],[1065,57.7],[1080,58.3],[1095,58.5],[1108,58.6],[1110,60.0],[1113,61.1],[1116,60.0],[1119,58.6],[1130,58.8],[1140,59.0],[1160,59.1],[1180,59.2],[1191,59.8],[1195,60.3],[1198,59.6],[1200,59.2],[1230,59.3],[1260,59.3],[1290,59.4],[1320,59.3],[1350,59.4],[1380,59.4],[1410,59.5],[1440,59.6]];

const lineA: number[][] = [[0,39.4],[6,39.8],[12,40.3],[18,39.9],[24,39.6],[30,39.2],[36,39.4],[42,39.7],[48,39.5],[51,40.0],[54,41.2],[57,42.0],[60,41.5],[66,40.6],[72,40.8],[78,40.4],[84,40.6],[90,38.9],[96,39.5],[102,40.6],[108,40.2],[114,38.8],[120,39.5],[126,40.0],[132,39.6],[138,40.3],[144,40.6],[150,39.8],[156,38.6],[162,39.2],[168,39.4],[172,40.8],[176,40.6],[180,39.0],[186,39.2],[192,38.6],[198,38.4],[204,38.8],[210,38.2],[216,38.6],[222,37.9],[226,37.8],[230,38.5],[233,42.5],[236,41.0],[238,39.2],[244,39.1],[250,38.7],[256,38.9],[262,38.6],[268,38.8],[274,38.9],[280,39.4],[283,41.0],[286,42.8],[289,40.2],[294,39.7],[300,40.0],[306,40.3],[309,42.4],[312,43.6],[315,40.5],[320,40.4],[328,40.1],[336,40.7],[342,40.5],[348,40.3],[354,40.9],[360,41.7],[366,40.8],[372,40.6],[378,41.2],[384,40.7],[390,40.5],[395,41.4],[398,42.8],[402,40.4],[408,40.2],[414,40.6],[420,40.3],[426,41.0],[432,40.7],[438,40.1],[444,40.8],[450,41.0],[456,40.6],[460,41.7],[463,42.5],[466,41.3],[470,40.6],[476,40.2],[482,40.0],[488,39.8],[494,39.2],[500,39.8],[506,40.4],[512,40.8],[516,41.1],[520,40.3],[526,39.6],[532,39.4],[538,39.8],[544,40.1],[550,40.0],[556,40.2],[561,41.9],[565,40.4],[570,40.3],[576,40.0],[582,39.5],[588,39.1],[594,38.8],[600,38.4],[606,38.6],[612,38.9],[618,38.6],[624,38.9],[630,39.2],[636,38.7],[642,38.2],[648,38.0],[654,38.3],[660,38.2],[666,37.6],[672,37.4],[678,37.2],[684,36.4],[688,37.2],[690,38.1],[694,37.5],[698,36.9],[702,37.4],[708,37.8],[714,38.1],[717,40.5],[720,42.5],[723,41.2],[726,39.2],[729,41.1],[732,38.5],[738,37.6],[744,37.3],[750,37.5],[756,37.2],[762,36.8],[768,36.7],[774,36.4],[780,36.6],[786,37.0],[792,37.2],[798,39.2],[802,37.8],[808,36.2],[814,36.0],[820,36.9],[826,37.6],[832,37.2],[838,36.9],[844,37.1],[850,36.7],[856,36.9],[862,36.4],[866,35.5],[870,35.3],[876,35.8],[882,36.2],[886,37.0],[889,40.3],[891,41.7],[894,39.0],[897,36.0],[904,36.7],[912,37.0],[918,37.3],[924,37.6],[930,37.8],[936,37.4],[942,37.0],[948,37.6],[954,37.4],[960,37.8],[966,37.5],[972,37.2],[978,37.3],[984,37.4],[990,36.9],[996,37.1],[1002,37.2],[1008,36.9],[1014,37.4],[1020,37.4],[1026,37.1],[1032,37.7],[1038,37.5],[1044,37.2],[1050,37.0],[1056,37.5],[1062,37.1],[1068,36.8],[1074,37.4],[1080,37.8],[1086,38.0],[1092,38.3],[1098,37.6],[1104,37.3],[1108,37.9],[1110,43.0],[1113,46.7],[1116,44.0],[1119,39.0],[1122,36.8],[1128,37.0],[1134,37.4],[1140,38.1],[1146,38.4],[1152,37.8],[1158,38.3],[1164,38.1],[1170,38.3],[1176,38.6],[1182,38.5],[1188,38.0],[1191,40.2],[1194,41.1],[1197,40.4],[1200,38.2],[1206,38.5],[1212,38.3],[1218,38.9],[1224,38.2],[1230,37.9],[1236,38.3],[1242,38.0],[1248,37.8],[1254,38.2],[1260,37.7],[1266,37.4],[1272,37.6],[1278,38.0],[1284,37.5],[1290,37.4],[1296,37.2],[1302,37.5],[1308,37.8],[1314,37.6],[1320,37.3],[1326,37.7],[1332,37.5],[1338,37.2],[1344,37.7],[1350,37.6],[1356,37.4],[1362,37.6],[1368,37.7],[1374,37.5],[1380,37.2],[1386,37.3],[1392,37.1],[1398,37.6],[1404,37.5],[1410,37.1],[1416,36.9],[1422,37.0],[1428,36.8],[1434,36.8],[1440,36.7]];

// envelope: [minute, 15s min, 15s max]
const envelope: number[][] = [[0,61.0,66.0],[2,61.0,62.6],[4,61.1,70.5],[6,61.0,62.8],[8,60.9,68.2],[10,61.0,62.5],[12,61.0,66.8],[14,60.9,62.9],[16,61.1,64.5],[18,61.0,62.6],[20,61.0,71.6],[22,60.8,62.7],[24,61.0,65.4],[26,60.9,62.8],[28,61.1,69.0],[30,60.9,63.0],[32,61.0,71.8],[34,60.8,62.6],[36,61.0,64.2],[38,60.9,62.5],[40,60.9,67.0],[42,61.0,62.8],[44,60.8,63.8],[46,60.9,62.6],[48,61.0,66.3],[50,60.9,62.7],[52,61.0,65.0],[54,60.8,62.9],[56,61.0,67.8],[58,60.9,63.0],[60,61.0,64.6],[62,60.9,62.8],[64,61.0,66.2],[66,61.1,63.5],[68,61.2,80.8],[70,61.1,63.6],[72,61.0,66.6],[74,60.9,63.0],[76,61.0,69.2],[77,61.0,80.3],[78,61.0,64.0],[80,60.9,62.7],[82,61.0,65.4],[84,60.9,62.6],[86,61.0,67.2],[88,60.9,62.8],[90,61.0,63.9],[93,60.9,62.6],[96,61.0,66.9],[98,61.0,63.0],[99,61.0,80.0],[100,61.0,63.2],[103,60.9,68.5],[106,61.0,62.7],[109,60.9,70.6],[112,61.0,62.8],[115,61.0,65.5],[118,60.9,62.6],[121,61.0,67.4],[124,61.0,62.8],[126,61.0,73.9],[128,60.9,62.7],[131,61.0,70.6],[134,61.0,62.8],[137,61.0,72.2],[140,60.9,62.9],[143,61.0,66.2],[146,61.0,62.8],[150,61.0,64.5],[154,61.0,62.6],[158,60.9,66.0],[162,61.0,62.8],[166,61.0,64.0],[170,61.0,63.0],[174,61.0,77.0],[176,61.0,63.2],[180,60.9,62.6],[186,60.8,64.6],[190,60.8,62.5],[192,60.7,67.8],[195,60.7,62.4],[198,60.7,66.1],[202,60.6,62.3],[208,60.5,64.5],[214,60.4,62.0],[220,60.3,63.5],[226,60.1,61.8],[232,60.0,62.5],[235,60.2,69.7],[238,60.0,63.0],[242,59.8,61.6],[248,59.8,64.2],[252,59.8,61.5],[256,59.8,72.8],[258,59.8,61.6],[264,59.7,63.5],[270,59.7,61.4],[276,59.7,62.8],[280,59.7,61.5],[284,59.8,72.8],[286,59.8,80.8],[288,59.7,62.0],[294,59.6,61.3],[300,59.6,62.4],[306,59.6,61.2],[310,59.6,63.0],[311,59.6,80.8],[313,59.5,61.5],[318,59.5,61.2],[324,59.5,66.7],[326,59.5,61.2],[330,59.5,66.1],[332,59.5,61.1],[340,59.4,62.0],[348,59.4,61.0],[356,59.4,62.2],[360,59.4,64.0],[362,59.3,61.0],[372,59.0,61.0],[380,59.0,60.9],[388,59.0,62.0],[394,59.0,69.0],[396,59.0,61.0],[398,59.0,79.2],[400,59.0,61.5],[406,58.9,60.8],[414,58.9,61.8],[420,58.9,66.1],[422,58.9,60.8],[430,58.8,61.5],[438,58.8,60.7],[444,58.8,62.6],[452,58.8,60.8],[456,58.8,63.5],[458,58.9,77.2],[460,58.9,62.0],[462,58.9,76.1],[464,58.9,61.5],[466,58.9,73.3],[468,58.9,61.2],[474,58.9,62.0],[480,58.9,60.9],[490,58.9,61.7],[500,58.9,60.8],[510,58.9,61.5],[520,58.9,60.7],[530,58.9,61.4],[540,58.9,60.8],[546,58.8,64.3],[548,58.8,61.0],[552,58.8,68.9],[554,58.8,61.0],[558,58.8,67.2],[560,58.8,61.3],[564,58.7,68.2],[566,58.7,61.0],[570,58.6,65.5],[572,58.6,60.8],[580,58.4,62.2],[586,58.4,60.5],[588,58.3,64.4],[590,58.0,60.2],[596,57.2,63.3],[600,56.6,60.0],[603,56.2,66.4],[606,55.5,58.5],[610,55.0,65.0],[614,54.8,58.0],[618,54.5,64.6],[621,54.6,58.1],[624,54.8,72.8],[627,54.9,58.4],[630,55.2,63.0],[633,55.2,58.6],[636,55.1,71.1],[639,55.0,58.5],[642,55.0,70.0],[645,55.1,58.7],[648,55.6,65.9],[651,55.6,59.0],[654,55.5,68.3],[657,55.4,58.9],[660,55.2,66.1],[663,55.1,58.6],[666,55.1,64.6],[669,55.0,58.5],[672,54.9,67.5],[675,54.8,58.3],[678,54.8,69.4],[681,54.8,58.4],[684,54.8,65.0],[687,54.9,58.6],[690,55.1,68.3],[693,54.8,58.4],[696,54.0,75.6],[699,53.5,57.5],[702,53.6,66.8],[705,53.5,57.2],[708,53.8,71.7],[711,54.0,80.6],[714,54.3,58.0],[717,55.2,67.0],[720,56.0,80.8],[722,56.5,61.0],[724,55.8,70.6],[726,55.4,59.0],[729,55.0,67.8],[732,54.9,58.5],[735,54.8,63.3],[738,54.6,58.2],[741,54.5,66.8],[744,54.3,58.0],[747,54.3,64.5],[750,54.2,57.9],[753,54.2,67.0],[756,54.1,58.0],[759,54.3,66.0],[762,54.3,58.1],[765,54.5,63.8],[768,54.6,58.3],[771,54.7,66.7],[774,54.8,58.4],[777,54.9,64.0],[780,55.0,70.0],[783,55.0,58.5],[786,55.1,65.2],[789,55.2,58.7],[792,55.2,67.8],[795,55.3,59.0],[798,55.5,66.1],[801,55.6,59.5],[804,54.4,67.5],[807,53.6,57.8],[810,53.5,64.0],[813,53.6,57.4],[816,53.6,72.0],[819,53.7,57.5],[822,53.8,66.4],[825,53.8,57.6],[828,53.8,63.3],[831,53.9,57.6],[834,53.9,66.0],[837,53.9,57.7],[840,54.0,67.0],[843,54.0,57.8],[846,54.1,64.8],[849,54.3,58.0],[852,54.5,67.8],[855,54.6,58.2],[858,54.7,63.0],[861,54.4,58.0],[864,53.8,65.5],[867,53.4,57.6],[869,53.4,77.5],[871,53.5,57.8],[874,53.6,66.0],[877,53.8,58.0],[880,54.0,68.0],[883,54.3,58.4],[886,54.7,71.7],[889,55.5,62.0],[891,56.0,80.8],[893,55.8,61.0],[896,54.8,63.5],[899,54.5,73.9],[902,54.6,58.6],[905,54.8,67.0],[908,55.0,71.7],[911,55.3,59.0],[914,55.5,66.5],[917,55.7,59.2],[920,55.9,65.2],[923,56.0,59.5],[926,56.1,69.4],[929,56.2,59.6],[932,56.3,66.0],[935,56.4,59.7],[936,56.4,74.2],[939,56.3,59.7],[942,56.4,67.5],[945,56.5,59.8],[946,56.5,70.0],[949,56.6,59.9],[952,56.7,66.1],[955,56.8,60.0],[958,56.9,64.0],[960,57.0,72.2],[963,57.0,60.3],[966,56.6,65.5],[969,56.3,59.7],[972,56.1,68.3],[975,56.0,59.5],[978,56.0,66.0],[981,55.9,59.4],[984,55.9,69.4],[987,55.8,59.3],[990,55.8,64.5],[993,55.9,59.4],[996,55.9,66.1],[999,56.0,59.6],[1002,56.2,64.0],[1005,56.4,59.8],[1008,56.6,65.6],[1011,56.8,60.1],[1014,56.9,63.5],[1017,57.0,60.3],[1020,57.1,67.2],[1023,57.2,60.4],[1026,57.3,63.0],[1029,57.4,75.0],[1032,57.5,60.6],[1038,57.6,63.3],[1042,57.7,60.6],[1050,58.0,61.7],[1058,58.3,60.5],[1066,58.5,61.2],[1074,58.7,60.7],[1080,58.9,61.0],[1090,59.0,61.3],[1100,59.1,61.2],[1106,59.2,61.8],[1110,59.3,62.5],[1112,59.4,81.4],[1114,59.6,63.0],[1116,59.6,79.4],[1118,59.4,62.0],[1122,59.5,64.8],[1124,59.6,61.5],[1132,59.7,61.8],[1140,59.8,61.6],[1150,59.8,62.0],[1160,59.8,61.7],[1170,59.9,62.1],[1180,59.9,61.8],[1190,59.9,62.3],[1193,60.0,63.0],[1195,60.0,80.8],[1197,60.1,63.0],[1200,60.0,62.0],[1204,60.0,65.0],[1206,60.0,61.8],[1210,60.0,64.2],[1212,60.0,61.8],[1216,60.0,62.8],[1224,60.0,62.8],[1230,60.1,61.8],[1240,60.1,62.0],[1250,60.0,61.7],[1260,60.1,61.9],[1270,60.1,61.7],[1280,60.1,62.1],[1290,60.0,61.8],[1300,60.2,62.0],[1310,60.1,61.8],[1320,60.1,61.9],[1330,60.1,61.7],[1340,60.1,62.0],[1350,60.1,61.7],[1360,60.1,61.9],[1370,60.1,61.8],[1380,60.1,62.0],[1390,60.1,61.8],[1400,60.1,62.0],[1410,60.1,61.8],[1420,60.2,62.0],[1430,60.1,61.8],[1440,60.1,61.9]];

// ---------------- CHART ----------------
const FONT = 'DejaVu Sans';
const pad = (n: number) => String(n).padStart(2, '0');
const fmtHM = (v: number) => (v % 120 === 0 ? `${pad(Math.floor(v / 60))}:${pad(v % 60)}` : '');
const fmtHMS = (v: number) => (v % 120 === 0 ? `${pad(Math.floor(v / 60))}:${pad(v % 60)}:00` : '');
const plusSymbol = 'path://M2,0H3V2H5V3H3V5H2V3H0V2H2Z';

function xAxisFor(gridIndex: number, fmt: (v: number) => string) {
  return {
    type: 'value', gridIndex, min: 0, max: 1440, interval: 120,
    name: 'time', nameLocation: 'middle', nameGap: 26,
    nameTextStyle: { fontSize: 11, color: '#000', fontFamily: FONT },
    axisLine: { show: true, onZero: false, lineStyle: { color: '#000', width: 1 } },
    axisTick: { show: true, length: 5, lineStyle: { color: '#000' } },
    minorTick: { show: true, splitNumber: 4, length: 3, lineStyle: { color: '#000' } },
    splitLine: { show: true, lineStyle: { color: '#b0b0b0', width: 1.5 } },
    minorSplitLine: { show: true, lineStyle: { color: '#d2cbbb', width: 1, type: [3, 2] } },
    axisLabel: { formatter: fmt, fontSize: 9, color: '#222', margin: 8, showMaxLabel: false, showMinLabel: true, fontFamily: FONT },
  };
}

function yAxisFor(gridIndex: number, right: boolean) {
  return {
    type: 'value', gridIndex, min: yTicks[0], max: yTicks[yTicks.length - 1], interval: 12,
    position: right ? 'right' : 'left',
    name: 'dB SPL', nameLocation: 'middle', nameGap: right ? 33 : 34, nameRotate: 90,
    nameTextStyle: { fontSize: 11, color: '#000', fontFamily: FONT },
    axisLine: { show: true, onZero: false, lineStyle: { color: '#000', width: 1 } },
    axisTick: { show: true, length: 5, lineStyle: { color: '#000' } },
    minorTick: { show: true, splitNumber: 4, length: 3, lineStyle: { color: '#000' } },
    splitLine: { show: !right, lineStyle: { color: '#b0b0b0', width: 1.5 } },
    minorSplitLine: { show: !right, lineStyle: { color: '#d2cbbb', width: 1, type: [3, 2] } },
    axisLabel: { fontSize: 9, color: '#222', margin: 12, fontFamily: FONT },
  };
}

export default function App() {
  const ref = useRef<HTMLDivElement>(null);
  useEffect(() => {
    if (!ref.current) return;
    const chart = echarts.init(ref.current, undefined, { renderer: 'svg' });
    const scatterCommon = { type: 'scatter', xAxisIndex: 0, yAxisIndex: 0, symbol: plusSymbol, symbolSize: 5, z: 2, silent: true };
    const lineCommon = { type: 'line', showSymbol: false, symbol: 'none', z: 3, silent: true };
    const option: any = {
      animation: false,
      backgroundColor: '#ffffff',
      textStyle: { fontFamily: FONT },
      title: [
        { text: 'data from [421/mic0]\nstarting point is [20251118_000008]', left: 24, top: 10, padding: 0,
          textStyle: { fontSize: 13.5, fontWeight: 'bold', lineHeight: 15, color: '#000', fontFamily: FONT } },
        { text: 'average and peak noise level (1 min sampling)', left: 59, top: 64, padding: 0,
          textStyle: { fontSize: 11.5, fontWeight: 'bold', color: '#000', fontFamily: FONT } },
        { text: 'average noise level (5 min with 15s min/max dB envelope)', left: 59, top: 626, padding: 0,
          textStyle: { fontSize: 11.5, fontWeight: 'bold', color: '#000', fontFamily: FONT } },
      ],
      grid: [
        { left: 59, right: 57, top: 84, height: 504, show: true, backgroundColor: '#FFF8DC', borderColor: '#000', borderWidth: 1 },
        { left: 59, right: 57, top: 645, height: 504, show: true, backgroundColor: '#FFF8DC', borderColor: '#000', borderWidth: 1 },
      ],
      xAxis: [xAxisFor(0, fmtHM), xAxisFor(1, fmtHMS)],
      yAxis: [yAxisFor(0, false), yAxisFor(0, true), yAxisFor(1, false), yAxisFor(1, true)],
      graphic: [
        { type: 'rect', z: 50, shape: { x: 2156, y: 543, width: 182, height: 40, r: 3 },
          style: { fill: 'rgba(255,248,220,0.85)', stroke: '#d9c59f', lineWidth: 1 } },
        { type: 'rect', z: 50, shape: { x: 2277, y: 1103, width: 61, height: 41, r: 3 },
          style: { fill: 'rgba(255,248,220,0.85)', stroke: '#d9c59f', lineWidth: 1 } },
      ],
      legend: [
        { data: [{ name: 'peak dB(Z)', icon: 'circle' }, { name: 'peak dB(C)', icon: 'circle' }, { name: 'peak dB(A)', icon: 'circle' }],
          orient: 'vertical', left: 2159, top: 544, itemWidth: 20, itemHeight: 5, itemGap: 0, z: 60, padding: 0,
          textStyle: { fontSize: 10, color: '#000', fontFamily: FONT } },
        { data: ['avg dB(Z)', 'avg dB(C)', 'avg dB(A)'],
          orient: 'vertical', left: 2258, top: 544, itemWidth: 22, itemHeight: 8, itemGap: 0, z: 60, padding: 0,
          lineStyle: { width: 3.5 },
          textStyle: { fontSize: 10, color: '#000', fontFamily: FONT } },
        { data: ['dB(Z)', 'dB(C)', 'dB(A)'],
          orient: 'vertical', left: 2279, top: 1105, itemWidth: 22, itemHeight: 8, itemGap: 0, z: 60, padding: 0,
          lineStyle: { width: 3.5 },
          textStyle: { fontSize: 10, color: '#000', fontFamily: FONT } },
      ],
      series: [
        { ...scatterCommon, name: 'peak dB(Z)', data: peakZ, itemStyle: { color: '#1E90FF', opacity: 0.7 } },
        { ...scatterCommon, name: 'peak dB(C)', data: peakC, itemStyle: { color: '#FF00FF', opacity: 0.7 } },
        { ...scatterCommon, name: 'peak dB(A)', data: peakA, itemStyle: { color: '#2E8B57', opacity: 0.7 } },
        { ...lineCommon, name: 'avg dB(Z)', xAxisIndex: 0, yAxisIndex: 0, data: avgZ, lineStyle: { color: '#4682B4', width: 1.4 }, itemStyle: { color: '#4682B4' } },
        { ...lineCommon, name: 'avg dB(C)', xAxisIndex: 0, yAxisIndex: 0, data: avgC, lineStyle: { color: '#DA70D6', width: 1.4 }, itemStyle: { color: '#DA70D6' } },
        { ...lineCommon, name: 'avg dB(A)', xAxisIndex: 0, yAxisIndex: 0, data: avgA, lineStyle: { color: '#9ACD32', width: 1.4 }, itemStyle: { color: '#9ACD32' } },
        {
          type: 'custom', name: 'envelope', xAxisIndex: 1, yAxisIndex: 2, coordinateSystem: 'cartesian2d', silent: true, z: 1,
          data: [[0, 60]],
          renderItem: (_params: any, api: any) => {
            const upper = envelope.map(([t, , hi]) => api.coord([t, hi]));
            const lower = envelope.slice().reverse().map(([t, lo]) => api.coord([t, lo]));
            return {
              type: 'polygon',
              shape: { points: upper.concat(lower) },
              style: { fill: 'rgba(240,128,110,0.17)', stroke: 'rgba(240,128,110,0.22)', lineWidth: 0.5 },
            };
          },
        },
        { ...lineCommon, name: 'dB(Z)', xAxisIndex: 1, yAxisIndex: 2, data: lineZ, lineStyle: { color: '#DC143C', width: 1.6 }, itemStyle: { color: '#DC143C' } },
        { ...lineCommon, name: 'dB(C)', xAxisIndex: 1, yAxisIndex: 2, data: lineC, lineStyle: { color: '#FF8C00', width: 1.6 }, itemStyle: { color: '#FF8C00' } },
        { ...lineCommon, name: 'dB(A)', xAxisIndex: 1, yAxisIndex: 2, data: lineA, lineStyle: { color: '#FFD700', width: 1.6 }, itemStyle: { color: '#FFD700' } },
      ],
    };
    chart.setOption(option);
    return () => chart.dispose();
  }, []);
  return <div ref={ref} style={{ position: 'fixed', left: 0, top: 0, width: 2400, height: 1200, background: '#fff' }} />;
}
